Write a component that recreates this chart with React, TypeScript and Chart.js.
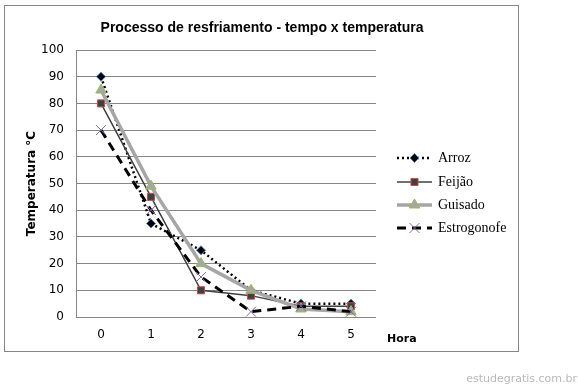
import React, { useEffect, useRef } from "react";
import { Chart, registerables } from "chart.js";
import { drawPoint } from "chart.js/helpers";

Chart.register(...registerables);

const hours = ["0", "1", "2", "3", "4", "5"];
const arroz = [90, 35, 25, 10, 5, 5];
const feijao = [80, 45, 10, 8, 4, 4];
const guisado = [85, 49, 20, 10, 3, 2];
const estrogonofe = [70, 40, 15, 2, 4, 2];
const seriesNames = ["Arroz", "Feijão", "Guisado", "Estrogonofe"];
const chartTitle = "Processo de resfriamento - tempo x temperatura";
const yTitle = "Temperatura °C";
const xTitle = "Hora";
const watermark = "estudegratis.com.br";

const TICK_FONT = "'DejaVu Sans', sans-serif";

export default function App() {
  const ref = useRef<HTMLCanvasElement>(null);

  useEffect(() => {
    const canvas = ref.current!;
    const styles = [
      { pointStyle: "rectRot", radius: 4.5, bg: "#000000", bd: "#4F81BD", pbw: 1, line: "#000000", lw: 2.5, dash: [2, 3] },
      { pointStyle: "rect", radius: 5, bg: "#404040", bd: "#C0504D", pbw: 1, line: "#404040", lw: 1.5, dash: [] },
      { pointStyle: "triangle", radius: 6, bg: "#A6A6A6", bd: "#9BBB59", pbw: 1, line: "#A6A6A6", lw: 3.5, dash: [] },
      { pointStyle: "crossRot", radius: 7, bg: "#8064A2", bd: "#8064A2", pbw: 1, line: "#000000", lw: 3, dash: [9, 6] },
    ];
    const values = [arroz, feijao, guisado, estrogonofe];

    const decor = {
      id: "decor",
      beforeDraw(chart: any) {
        const ctx = chart.ctx;
        ctx.save();
        ctx.fillStyle = "#ffffff";
        ctx.fillRect(0, 0, chart.width, chart.height);
        ctx.strokeStyle = "#868686";
        ctx.lineWidth = 1;
        ctx.strokeRect(4.5, 5.5, 514, 346);
        ctx.restore();
      },
      afterDraw(chart: any) {
        const ctx = chart.ctx;
        ctx.save();
        // title
        ctx.fillStyle = "#000000";
        ctx.font = "bold 14px 'Liberation Sans', sans-serif";
        ctx.textAlign = "center";
        ctx.textBaseline = "middle";
        ctx.fillText(chartTitle, 262, 28);
        // x axis title
        ctx.font = "bold 11px 'DejaVu Sans', sans-serif";
        ctx.textAlign = "left";
        ctx.fillText(xTitle, 387, 339);
        // watermark
        ctx.fillStyle = "#b9b9b9";
        ctx.font = "11px 'DejaVu Sans', sans-serif";
        ctx.textAlign = "right";
        ctx.fillText(watermark, 577, 379);
        // legend
        const ys = [158, 182, 205, 228];
        styles.forEach((s, i) => {
          const y = ys[i];
          ctx.save();
          ctx.strokeStyle = s.line;
          ctx.lineWidth = s.lw;
          ctx.setLineDash(s.dash);
          ctx.beginPath();
          ctx.moveTo(397, y);
          ctx.lineTo(432, y);
          ctx.stroke();
          ctx.restore();
          ctx.save();
          ctx.fillStyle = s.bg;
          ctx.strokeStyle = s.bd;
          ctx.lineWidth = s.pbw;
          drawPoint(ctx, { pointStyle: s.pointStyle as any, radius: s.radius, rotation: 0, borderWidth: s.pbw }, 414.5, y);
          ctx.restore();
          ctx.fillStyle = "#000000";
          ctx.font = "14px 'Liberation Serif', serif";
          ctx.textAlign = "left";
          ctx.textBaseline = "middle";
          ctx.fillText(seriesNames[i], 438, y);
        });
        ctx.restore();
      },
    };

    const chart = new Chart(canvas, {
      type: "line",
      data: {
        labels: hours,
        datasets: values.map((v, i) => ({
          label: seriesNames[i],
          data: v,
          borderColor: styles[i].line,
          borderWidth: styles[i].lw,
          borderDash: styles[i].dash,
          backgroundColor: styles[i].bg,
          pointStyle: styles[i].pointStyle as any,
          pointRadius: styles[i].radius,
          pointBackgroundColor: styles[i].bg,
          pointBorderColor: styles[i].bd,
          pointBorderWidth: styles[i].pbw,
          tension: 0,
          fill: false,
          order: 4 - i,
        })),
      },
      options: {
        responsive: false,
        animation: false,
        layout: { padding: { top: 50, left: 20, right: 202, bottom: 0 } },
        plugins: {
          legend: { display: false },
          title: { display: false },
          tooltip: { enabled: false },
        },
        scales: {
          x: {
            type: "category",
            offset: true,
            grid: { display: false, drawTicks: false },
            border: { display: false },
            ticks: { color: "#000000", font: { family: TICK_FONT, size: 12 }, padding: 11 },
            afterFit(scale: any) {
              scale.height = 69;
            },
          },
          y: {
            min: 0,
            max: 100,
            ticks: { stepSize: 10, color: "#000000", font: { family: TICK_FONT, size: 12 }, padding: 12 },
            grid: { color: "#868686", lineWidth: 1, drawTicks: false },
            border: { display: true, color: "#868686", width: 1 },
            title: {
              display: true,
              text: yTitle,
              color: "#000000",
              font: { family: TICK_FONT, size: 12, weight: "bold" },
              padding: { top: 5, bottom: 0 },
            },
            afterFit(scale: any) {
              scale.width = 56;
            },
          },
        },
      },
      plugins: [decor],
    });
    return () => chart.destroy();
  }, []);

  return (
    <div style={{ position: "absolute", left: 0, top: 0, width: 578, height: 386, background: "#fff" }}>
      <canvas ref={ref} width={578} height={386} style={{ display: "block" }} />
    </div>
  );
}
